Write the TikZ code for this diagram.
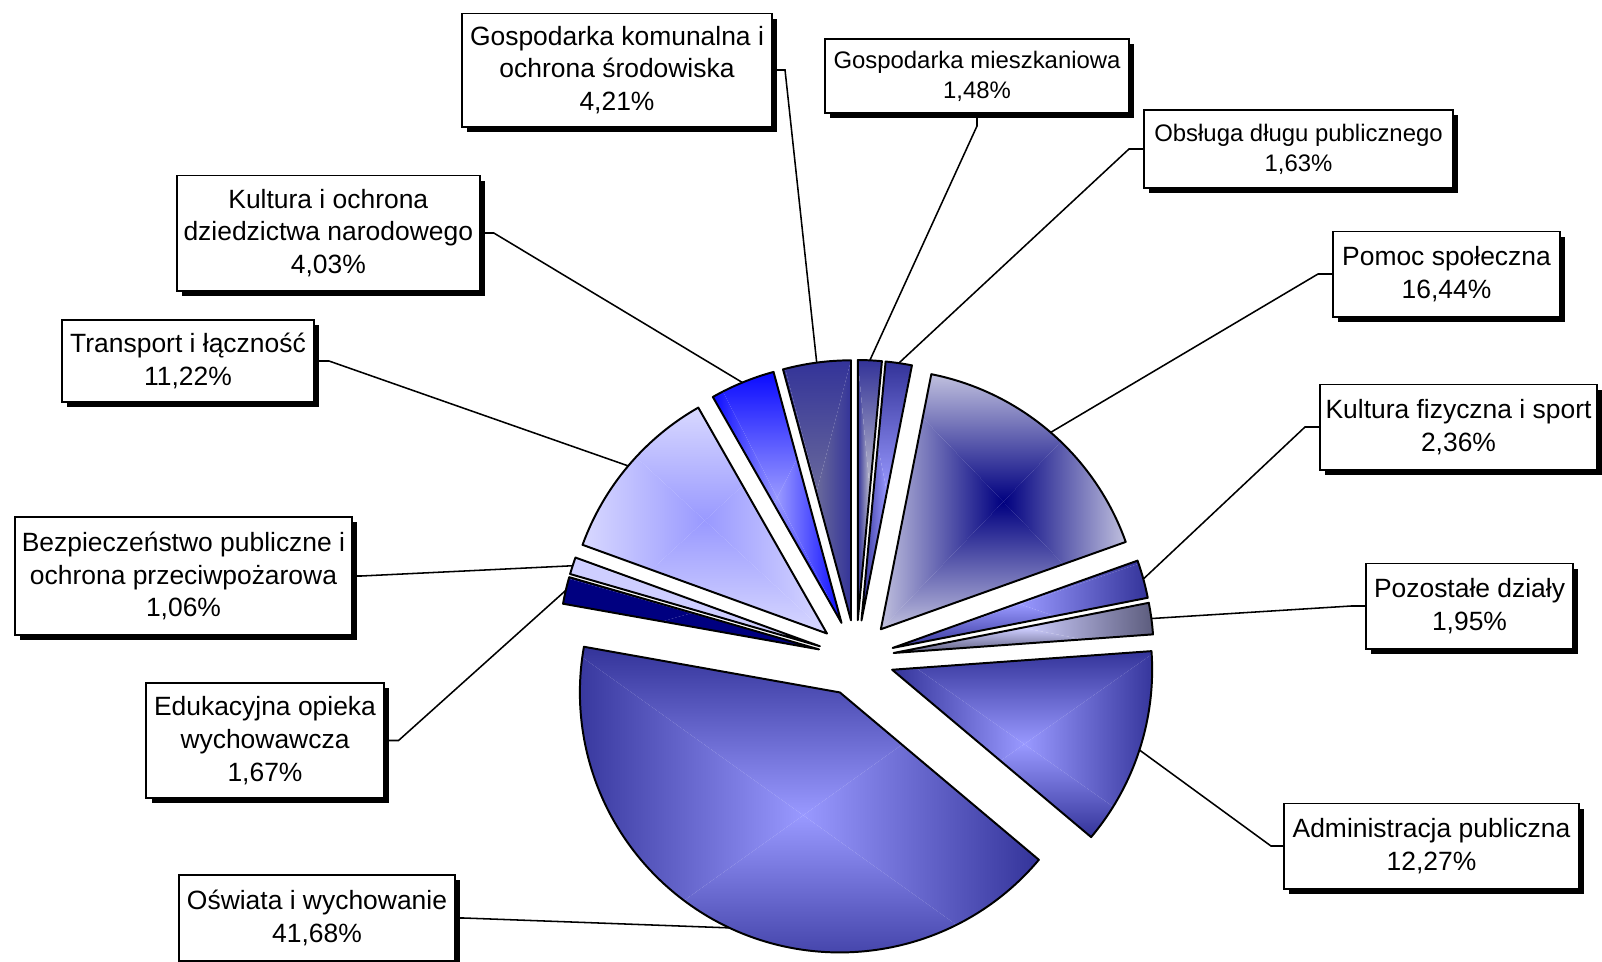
\documentclass[tikz,border=0pt]{standalone}
\usepackage{fontspec}
\setmainfont{Liberation Sans}
\usetikzlibrary{calc,shadows}

\definecolor{darkslice}{RGB}{51,51,153}
\definecolor{midslice}{RGB}{153,153,255}
\definecolor{paleslice}{RGB}{216,216,255}
\definecolor{navyslice}{RGB}{0,0,128}
\definecolor{greyslice}{RGB}{192,192,205}
\definecolor{slateslice}{RGB}{105,105,155}
\definecolor{blueslice}{RGB}{10,10,255}
\definecolor{lilacslice}{RGB}{192,192,222}
\definecolor{duskslice}{RGB}{92,92,125}
\definecolor{lavslice}{RGB}{206,206,255}

% #1 start angle, #2 end angle, #3 colour in the middle, #4 colour at the rim
\newcommand{\pieslice}[4]{%
  \begin{scope}[local bounding box=sbox]
    \path ($(ctr)+({((#1)+(#2))/2}:38)$) -- +(#1:260) arc[start angle=#1, end angle=#2, radius=260] -- cycle;
  \end{scope}
  \begin{scope}
    \clip ($(ctr)+({((#1)+(#2))/2}:38)$) -- +(#1:260) arc[start angle=#1, end angle=#2, radius=260] -- cycle;
    \shade[bottom color=#3, top color=#4] (sbox.center) -- (sbox.north west) -- (sbox.north east) -- cycle;
    \shade[top color=#3, bottom color=#4] (sbox.center) -- (sbox.south west) -- (sbox.south east) -- cycle;
    \shade[right color=#3, left color=#4] (sbox.center) -- (sbox.north west) -- (sbox.south west) -- cycle;
    \shade[left color=#3, right color=#4] (sbox.center) -- (sbox.north east) -- (sbox.south east) -- cycle;
  \end{scope}
  \draw[slice] ($(ctr)+({((#1)+(#2))/2}:38)$) -- +(#1:260) arc[start angle=#1, end angle=#2, radius=260] -- cycle;
}

\begin{document}
\begin{tikzpicture}[x=0.025cm, y=0.025cm,
	slice/.style={draw=black, line width=1.4pt, line join=round},
	leader/.style={draw=black, line width=1.1pt},
	lbl/.style={draw=black, line width=1.4pt, fill=white, align=center, inner sep=1pt,
		drop shadow={shadow xshift=3.6pt, shadow yshift=-3.6pt, fill=black, opacity=1},
		font=\fontsize{18.8}{23.2}\selectfont},
	lblsmall/.style={lbl, font=\fontsize{17}{21.5}\selectfont}]
	\coordinate (ctr) at (856,-658);
	% slices, clockwise from the top
	\pieslice{90}{84.672}{greyslice}{darkslice}
	\pieslice{84.672}{78.804}{midslice}{darkslice}
	\pieslice{78.804}{19.62}{navyslice}{lilacslice}
	\pieslice{19.62}{11.124}{midslice}{darkslice}
	\pieslice{11.124}{4.104}{lavslice}{duskslice}
	\pieslice{4.104}{-40.068}{midslice}{darkslice}
	\pieslice{-40.068}{-190.116}{midslice}{darkslice}
	\pieslice{-190.116}{-196.128}{navyslice}{navyslice}
	\pieslice{-196.128}{-199.944}{lavslice}{lavslice}
	\pieslice{-199.944}{-240.336}{midslice}{paleslice}
	\pieslice{-240.336}{-254.844}{midslice}{blueslice}
	\pieslice{-254.844}{-270}{slateslice}{darkslice}
	% points on the rims
	\coordinate (mieP) at ($(ctr)+(87.336:298)$);
	\coordinate (obsP) at ($(ctr)+(81.738:298)$);
	\coordinate (pomP) at ($(ctr)+(49.212:298)$);
	\coordinate (kfsP) at ($(ctr)+(15.372:298)$);
	\coordinate (pozP) at ($(ctr)+(7.614:298)$);
	\coordinate (admP) at ($(ctr)+(-17.982:298)$);
	\coordinate (oswP) at ($(ctr)+(-115.092:298)$);
	\coordinate (eduP) at ($(ctr)+(-193.122:298)$);
	\coordinate (bezP) at ($(ctr)+(-198.036:298)$);
	\coordinate (traP) at ($(ctr)+(-220.14:298)$);
	\coordinate (kulP) at ($(ctr)+(-247.59:298)$);
	\coordinate (komP) at ($(ctr)+(-262.422:298)$);
	% labels
	\node[lbl, minimum width=7.75cm, minimum height=2.825cm] (kom) at (617,-70) {Gospodarka komunalna i\\ochrona środowiska\\4,21\%};
	\node[lblsmall, minimum width=7.6cm, minimum height=1.85cm] (mie) at (977,-76) {Gospodarka mieszkaniowa\\1,48\%};
	\node[lblsmall, minimum width=7.725cm, minimum height=1.95cm] (obs) at (1298.5,-149) {Obsługa długu publicznego\\1,63\%};
	\node[lbl, minimum width=5.675cm, minimum height=2.125cm] (pom) at (1446.5,-274) {Pomoc społeczna\\16,44\%};
	\node[lbl, minimum width=6.925cm, minimum height=2.125cm] (kfs) at (1458.5,-427) {Kultura fizyczna i sport\\2,36\%};
	\node[lbl, minimum width=5.175cm, minimum height=2.125cm] (poz) at (1469.5,-606) {Pozostałe działy\\1,95\%};
	\node[lbl, minimum width=7.375cm, minimum height=2.125cm] (adm) at (1431.5,-846) {Administracja publiczna\\12,27\%};
	\node[lbl, minimum width=6.9cm, minimum height=2.15cm] (osw) at (317,-918) {Oświata i wychowanie\\41,68\%};
	\node[lbl, minimum width=5.925cm, minimum height=2.875cm] (edu) at (265,-740.5) {Edukacyjna opieka\\wychowawcza\\1,67\%};
	\node[lbl, minimum width=8.425cm, minimum height=2.95cm] (bez) at (183.5,-576) {Bezpieczeństwo publiczne i\\ochrona przeciwpożarowa\\1,06\%};
	\node[lbl, minimum width=6.3cm, minimum height=2.05cm] (tra) at (188,-361) {Transport i łączność\\11,22\%};
	\node[lbl, minimum width=7.575cm, minimum height=2.875cm] (kul) at (328.3,-233) {Kultura i ochrona\\dziedzictwa narodowego\\4,03\%};
	% leaders
	\draw[leader] (kom.east) -- ++(12,0) -- (komP);
	\draw[leader] (mie.south) -- ++(0,-12) -- (mieP);
	\draw[leader] (obs.west) -- ++(-14,0) -- (obsP);
	\draw[leader] (pom.west) -- ++(-14,0) -- (pomP);
	\draw[leader] (kfs.west) -- ++(-14,0) -- (kfsP);
	\draw[leader] (poz.west) -- ++(-14,0) -- (pozP);
	\draw[leader] (adm.west) -- ++(-12,0) -- (admP);
	\draw[leader] (osw.east) -- ++(8,0) -- (oswP);
	\draw[leader] (edu.east) -- ++(14,0) -- (eduP);
	\draw[leader] (bez.east) -- ++(8,0) -- (bezP);
	\draw[leader] (tra.east) -- ++(14,0) -- (traP);
	\draw[leader] (kul.east) -- ++(13,0) -- (kulP);
	\pgfresetboundingbox
	\useasboundingbox (0,0) rectangle (1602,-961);
\end{tikzpicture}
\end{document}
